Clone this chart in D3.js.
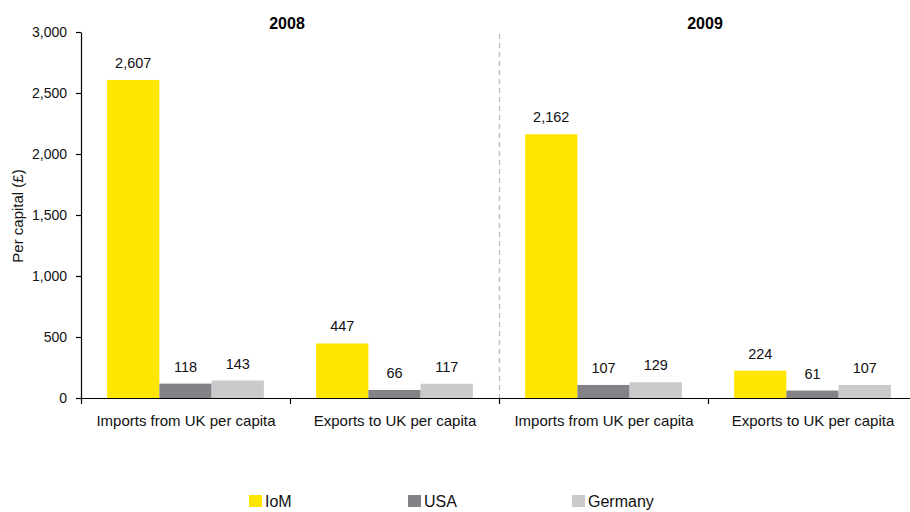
<!DOCTYPE html>
<html>
<head>
<meta charset="utf-8">
<script src="https://cdn.jsdelivr.net/npm/d3@7"></script>
<style>
  html, body { margin: 0; padding: 0; background: #fff; }
  svg { display: block; font-family: "Liberation Sans", Arial, sans-serif; }
</style>
</head>
<body>
<svg id="chart" width="910" height="512"></svg>
<script>
// Per-capita trade with the UK, by year
const years = ["2008", "2009"];
const measures = ["Imports from UK per capita", "Exports to UK per capita"];
const seriesNames = ["IoM", "USA", "Germany"];
// values in order: 2008 imports, 2008 exports, 2009 imports, 2009 exports
const iom = [2607, 447, 2162, 224];
const usa = [118, 66, 107, 61];
const germany = [143, 117, 129, 107];
const yTicks = [0, 500, 1000, 1500, 2000, 2500, 3000];

const colors = { IoM: "#FFE600", USA: "#838286", Germany: "#CACACC" };
const seriesValues = { IoM: iom, USA: usa, Germany: germany };

const groups = [];
years.forEach(yr => measures.forEach(m => groups.push({ key: yr + "|" + m, year: yr, measure: m })));

const svg = d3.select("#chart");
const plotLeft = 81, plotRight = 917, plotTop = 32, plotBottom = 398;

const x0 = d3.scaleBand().domain(groups.map(g => g.key)).range([plotLeft, plotRight]).padding(0);
const x1 = d3.scaleBand().domain(seriesNames).range([0, x0.bandwidth()]).paddingInner(0).paddingOuter(0.5);
const y = d3.scaleLinear().domain([0, 3000]).range([plotBottom, plotTop]);

// year divider
svg.append("line")
  .attr("x1", Math.round(x0(groups[2].key)) + 0.5).attr("x2", Math.round(x0(groups[2].key)) + 0.5)
  .attr("y1", plotTop + 2).attr("y2", plotBottom)
  .attr("stroke", "#BDBDBD").attr("stroke-width", 1.3).attr("stroke-dasharray", "5,4");

// bars
groups.forEach((g, i) => {
  const gEl = svg.append("g").attr("transform", `translate(${x0(g.key)},0)`);
  seriesNames.forEach(s => {
    const v = seriesValues[s][i];
    gEl.append("rect")
      .attr("x", x1(s)).attr("width", x1.bandwidth())
      .attr("y", y(v)).attr("height", y(0) - y(v))
      .attr("fill", colors[s]);
    gEl.append("text")
      .attr("x", x1(s) + x1.bandwidth() / 2).attr("y", y(v) - 12)
      .attr("text-anchor", "middle").attr("font-size", 14.5).attr("fill", "#111")
      .text(d3.format(",")(v));
  });
});

// y axis
const yAxis = svg.append("g").attr("transform", `translate(${plotLeft},0)`)
  .call(d3.axisLeft(y).tickValues(yTicks).tickFormat(d3.format(",")).tickSize(5).tickSizeOuter(0).tickPadding(9));
yAxis.selectAll("text").attr("font-size", 14).attr("fill", "#111").attr("font-family", "Liberation Sans, Arial, sans-serif");
yAxis.selectAll("line, path").attr("stroke", "#000").attr("stroke-width", 1.2);

// x axis
svg.append("line").attr("x1", plotLeft).attr("x2", 910).attr("y1", plotBottom + 0.5).attr("y2", plotBottom + 0.5)
  .attr("stroke", "#000").attr("stroke-width", 1.2);
groups.forEach(g => {
  const gx = Math.round(x0(g.key)) + 0.5;
  svg.append("line").attr("x1", gx).attr("x2", gx).attr("y1", plotBottom).attr("y2", plotBottom + 6)
    .attr("stroke", "#000").attr("stroke-width", 1.2);
  svg.append("text")
    .attr("x", x0(g.key) + x0.bandwidth() / 2 + 0.5).attr("y", 426)
    .attr("text-anchor", "middle").attr("font-size", 15).attr("fill", "#111")
    .text(g.measure);
});

// year titles
years.forEach(yr => {
  const ks = groups.filter(g => g.year === yr);
  const cx = (x0(ks[0].key) + x0(ks[ks.length - 1].key) + x0.bandwidth()) / 2;
  svg.append("text").attr("x", cx - 3).attr("y", 29)
    .attr("text-anchor", "middle").attr("font-size", 16).attr("font-weight", "bold").attr("fill", "#000")
    .text(yr);
});

// y axis title
svg.append("text")
  .attr("transform", "translate(23,216) rotate(-90)")
  .attr("text-anchor", "middle").attr("font-size", 15).attr("fill", "#111")
  .text("Per capital (£)");

// legend
const legendX = [249, 408, 572];
seriesNames.forEach((s, i) => {
  svg.append("rect").attr("x", legendX[i]).attr("y", 495).attr("width", 13).attr("height", 12).attr("fill", colors[s]);
  svg.append("text").attr("x", legendX[i] + 16).attr("y", 507)
    .attr("font-size", 16).attr("fill", "#111").text(s);
});
</script>
</body>
</html>
